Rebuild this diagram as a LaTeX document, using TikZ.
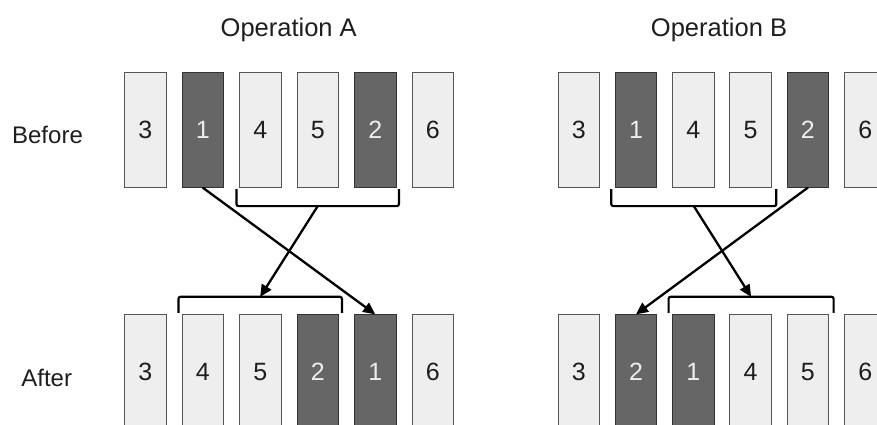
\documentclass[tikz,border=0pt]{standalone}
\usepackage{fontspec}
\setmainfont{Liberation Sans}
\usetikzlibrary{arrows.meta,calc}
\definecolor{cardlight}{HTML}{EEEEEE}
\definecolor{carddark}{HTML}{666666}
\definecolor{cardedge}{HTML}{555555}
\definecolor{inkgray}{HTML}{1E1E1E}

\tikzset{
  card/.style={draw=cardedge, line width=0.9pt, minimum width=41.5pt,
    minimum height=115pt, anchor=north west, inner sep=0pt,
    font=\fontsize{25}{29}\selectfont},
  lightcard/.style={card, fill=cardlight, text=inkgray},
  darkcard/.style={card, fill=carddark, draw=black!80, text=cardlight},
  label/.style={anchor=base, inner sep=0pt, text=inkgray,
    font=\fontsize{24}{28}\selectfont},
  heading/.style={label, font=\fontsize{25.5}{29}\selectfont},
  bracket/.style={draw=black, line width=2.2pt, rounded corners=2pt},
  move/.style={draw=black, line width=2.3pt,
    -{Triangle[length=12pt,width=11pt]}}
}

\begin{document}
\begin{tikzpicture}[x=1pt,y=-1pt]
\useasboundingbox (0,0) rectangle (877,425);
\clip (0,0) rectangle (877,425);
\fill[white] (0,0) rectangle (877,425);

% headings and row labels
\node[heading] (opA) at (288.7,36.5) {Operation A};
\node[heading] (opB) at (719,36.5) {Operation B};
\node[label] (before) at (47.5,143.3) {Before};
\node[label] (after) at (46.7,386.7) {After};

% ---- Operation A ----
% before
\node[lightcard] (aT0) at (124,71.7) {3};
\node[darkcard]  (aT1) at (181.5,71.7) {1};
\node[lightcard] (aT2) at (239,71.7) {4};
\node[lightcard] (aT3) at (296.5,71.7) {5};
\node[darkcard]  (aT4) at (354,71.7) {2};
\node[lightcard] (aT5) at (411.5,71.7) {6};
% after
\node[lightcard] (aB0) at (124,314.3) {3};
\node[lightcard] (aB1) at (181.5,314.3) {4};
\node[lightcard] (aB2) at (239,314.3) {5};
\node[darkcard]  (aB3) at (296.5,314.3) {2};
\node[darkcard]  (aB4) at (354,314.3) {1};
\node[lightcard] (aB5) at (411.5,314.3) {6};

% brackets grouping the block that moves
\draw[bracket] ($(aT2.south west)+(-2.5,1.5)$) -- ++(0,17)
  -| ($(aT4.south east)+(2.5,1.5)$);
\coordinate (aTmid) at ($(aT2.south west)!0.5!(aT4.south east)+(0,18.5)$);
\draw[bracket] ($(aB1.north west)+(-3,-1.5)$) -- ++(0,-16)
  -| ($(aB3.north east)+(3,-1.5)$);
\coordinate (aBmid) at ($(aB1.north west)!0.5!(aB3.north east)+(0,-17.5)$);

\draw[move] (aTmid) -- (aBmid);
\draw[move] (aT1.south) -- (aB4.north);

% ---- Operation B ----
% before
\node[lightcard] (bT0) at (557.5,71.7) {3};
\node[darkcard]  (bT1) at (614.8,71.7) {1};
\node[lightcard] (bT2) at (672.1,71.7) {4};
\node[lightcard] (bT3) at (729.4,71.7) {5};
\node[darkcard]  (bT4) at (786.7,71.7) {2};
\node[lightcard] (bT5) at (844,71.7) {6};
% after
\node[lightcard] (bB0) at (557.5,314.3) {3};
\node[darkcard]  (bB1) at (614.8,314.3) {2};
\node[darkcard]  (bB2) at (672.1,314.3) {1};
\node[lightcard] (bB3) at (729.4,314.3) {4};
\node[lightcard] (bB4) at (786.7,314.3) {5};
\node[lightcard] (bB5) at (844,314.3) {6};

\draw[bracket] ($(bT1.south west)+(-3.5,1.5)$) -- ++(0,17)
  -| ($(bT3.south east)+(4.5,1.5)$);
\coordinate (bTmid) at ($(bT1.south west)!0.5!(bT3.south east)+(0.5,18.5)$);
\draw[bracket] ($(bB2.north west)+(-3.5,-1.5)$) -- ++(0,-16)
  -| ($(bB4.north east)+(4.5,-1.5)$);
\coordinate (bBmid) at ($(bB2.north west)!0.5!(bB4.north east)+(0.5,-17.5)$);

\draw[move] (bTmid) -- (bBmid);
\draw[move] (bT4.south) -- (bB1.north);
\end{tikzpicture}
\end{document}
